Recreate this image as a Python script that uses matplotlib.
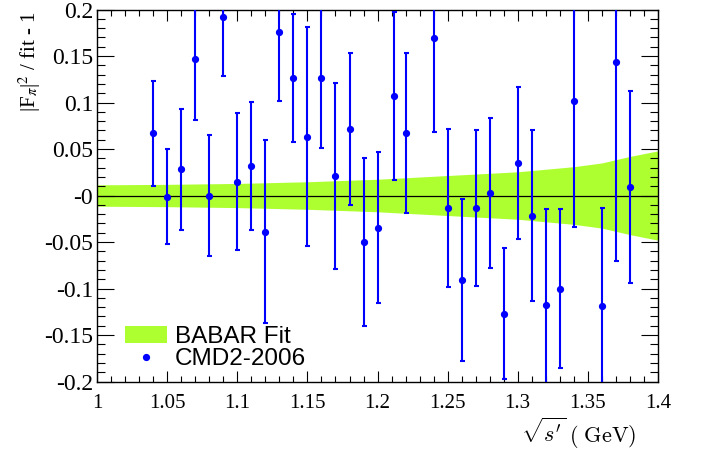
import numpy as np
import matplotlib
matplotlib.use('Agg')
import matplotlib.pyplot as plt
from matplotlib.patches import Patch
from matplotlib.lines import Line2D

# CMD2-2006 points: sqrt(s') in GeV, relative deviation and error
x_pts = [1.04, 1.05, 1.06, 1.07, 1.08, 1.09, 1.10, 1.11, 1.12, 1.13, 1.14,
         1.15, 1.16, 1.17, 1.18, 1.19, 1.20, 1.212, 1.22, 1.24, 1.25, 1.26,
         1.27, 1.28, 1.29, 1.30, 1.31, 1.32, 1.33, 1.34, 1.36, 1.37, 1.38]
y_pts = [0.0667, -0.0011, 0.028, 0.147, -0.0003, 0.1922, 0.0147, 0.0319,
         -0.0387, 0.1763, 0.1266, 0.0634, 0.1266, 0.0215, 0.0717, -0.0501,
         -0.0344, 0.1069, 0.0671, 0.1696, -0.0132, -0.091, -0.0132, 0.0026,
         -0.1272, 0.0352, -0.0215, -0.1172, -0.100, 0.1018, -0.1183, 0.1441,
         0.009]
y_err = [0.056, 0.051, 0.065, 0.066, 0.065, 0.064, 0.0735, 0.069, 0.098,
         0.075, 0.069, 0.118, 0.075, 0.10, 0.082, 0.09, 0.081, 0.09, 0.086,
         0.101, 0.085, 0.087, 0.084, 0.081, 0.0706, 0.082, 0.092, 0.103,
         0.085, 0.136, 0.105, 0.214, 0.103]

# BABAR fit uncertainty band (half width)
band_x = [1.0, 1.05, 1.1, 1.15, 1.2, 1.25, 1.3, 1.34, 1.36, 1.38, 1.4]
band_hw = [0.0115, 0.012, 0.013, 0.0148, 0.0175, 0.0215, 0.0255,
           0.031, 0.035, 0.042, 0.048]

x_ticks = [1.0, 1.05, 1.1, 1.15, 1.2, 1.25, 1.3, 1.35, 1.4]
x_labels = ['1', '1.05', '1.1', '1.15', '1.2', '1.25', '1.3', '1.35', '1.4']
y_ticks = [-0.2, -0.15, -0.1, -0.05, 0.0, 0.05, 0.1, 0.15, 0.2]
y_labels = ['-0.2', '-0.15', '-0.1', '-0.05', '-0', '0.05', '0.1', '0.15', '0.2']

plt.rcParams['mathtext.fontset'] = 'cm'

fig = plt.figure(figsize=(7.02, 4.62), dpi=100)
ax = fig.add_axes([0.1386, 0.1742, 0.7984, 0.8052])

band_x = np.array(band_x)
band_hw = np.array(band_hw)
ax.fill_between(band_x, -band_hw, band_hw, color='#adff2f', lw=0, zorder=1)
ax.axhline(0, color='black', lw=0.9, zorder=2)

ax.errorbar(x_pts, y_pts, yerr=y_err, fmt='o', color='#0000ff', ms=4.2,
            elinewidth=1.5, capsize=1.8, capthick=1.5, zorder=3)

ax.set_xlim(1.0, 1.4)
ax.set_ylim(-0.2, 0.2)
ax.set_xticks(x_ticks)
ax.set_xticklabels(x_labels, family='Liberation Serif', fontsize=15)
ax.set_yticks(y_ticks)
ax.set_yticklabels(y_labels, family='Liberation Serif', fontsize=17)
ax.set_xticks(np.arange(1.0, 1.4001, 0.01), minor=True)
ax.set_yticks(np.arange(-0.2, 0.2001, 0.01), minor=True)

ax.tick_params(which='both', direction='in', top=True, right=True, width=0.8)
ax.tick_params(axis='x', which='major', length=8, pad=9)
ax.tick_params(axis='x', which='minor', length=4)
ax.tick_params(axis='y', which='major', length=12, pad=3)
ax.tick_params(axis='y', which='minor', length=6)
for sp in ax.spines.values():
    sp.set_linewidth(1.0)

fig.text(30 / 702, 1 - 12 / 462, r'|F$_{\pi}$|$^{2}$ / fit - 1', rotation=90,
         ha='center', va='top', family='Liberation Serif', fontsize=15,
         math_fontfamily='stix')
fig.text(636 / 702, 1 - 433 / 462, r"$\sqrt{s'}\;(\;\mathrm{GeV})$", ha='right',
         va='center', fontsize=16)

handles = [Patch(facecolor='#adff2f', edgecolor='none'),
           Line2D([], [], marker='o', ls='none', color='#0000ff', ms=4.2)]
ax.legend(handles, ['BABAR Fit', 'CMD2-2006'], loc='lower left',
          bbox_to_anchor=(0.05, 0.03), frameon=False,
          prop={'family': 'Liberation Sans', 'size': 17.5},
          handlelength=1.7, handleheight=0.75, handletextpad=0.35,
          labelspacing=0.0, borderpad=0.0, borderaxespad=0)

fig.savefig('out.png', dpi=100)
